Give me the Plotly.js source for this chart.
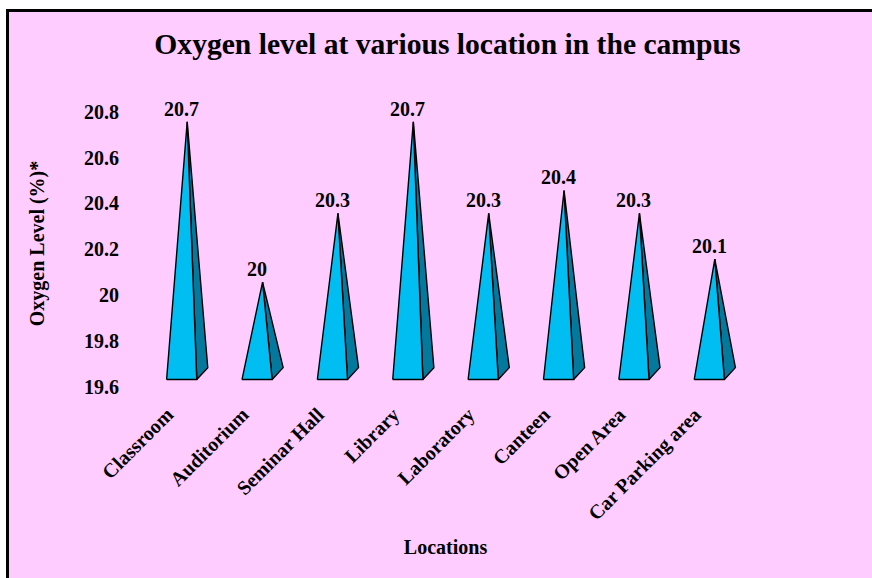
<!DOCTYPE html>
<html>
<head>
<meta charset="utf-8">
<script src="https://cdn.plot.ly/plotly-3.0.1.min.js"></script>
<style>
  html, body { margin: 0; padding: 0; background: #ffffff; width: 872px; height: 578px; overflow: hidden; }
  #chart { position: absolute; left: 6px; top: 9px; width: 863px; height: 566px;
           border-left: 3px solid #000; border-top: 3px solid #000; }
</style>
</head>
<body>
<div id="chart"></div>
<script>
// ---- data ----
const categories = ['Classroom', 'Auditorium', 'Seminar Hall', 'Library', 'Laboratory', 'Canteen', 'Open Area', 'Car Parking area'];
const values = [20.7, 20, 20.3, 20.7, 20.3, 20.4, 20.3, 20.1];
const valueLabels = ['20.7', '20', '20.3', '20.7', '20.3', '20.4', '20.3', '20.1'];
const yTickVals = [19.6, 19.8, 20.0, 20.2, 20.4, 20.6, 20.8];
const yTickText = ['19.6', '19.8', '20', '20.2', '20.4', '20.6', '20.8'];
const baseValue = 19.6;

// ---- style ----
const FONT = '"Liberation Serif", "Times New Roman", Times, serif';
const FRONT = '#00BEF2';
const SIDE = '#03799E';
const halfW = 0.2;     // half width of pyramid front base (category units)
const depthX = 0.146;  // depth offset (category units)
const depthY = 0.052;  // depth offset (value units)
const labelShift = -0.19; // category label offset (category units)

const traces = [];
// anchor trace for the visible value axis
traces.push({ type: 'scatter', mode: 'markers', x: [null], y: [null], xaxis: 'x', yaxis: 'y',
              hoverinfo: 'skip', showlegend: false });
categories.forEach((c, i) => {
  const v = values[i];
  const ax = i + depthX / 2, ay = v + depthY / 2;
  // side face
  traces.push({
    type: 'scatter', mode: 'lines', fill: 'toself', fillcolor: SIDE,
    x: [i + halfW, i + halfW + depthX, ax, i + halfW],
    y: [baseValue, baseValue + depthY, ay, baseValue],
    line: { color: '#000', width: 1.4 }, yaxis: 'y2', hoverinfo: 'skip', showlegend: false
  });
  // front face
  traces.push({
    type: 'scatter', mode: 'lines', fill: 'toself', fillcolor: FRONT,
    x: [i - halfW, i + halfW, ax, i - halfW],
    y: [baseValue, baseValue, ay, baseValue],
    line: { color: '#000', width: 1.4 }, yaxis: 'y2', name: c,
    hovertemplate: c + ': ' + v + '<extra></extra>', showlegend: false
  });
});

const annotations = categories.map((c, i) => ({
  x: i, y: values[i], xref: 'x', yref: 'y2', text: valueLabels[i],
  showarrow: false, yshift: 19, yanchor: 'middle',
  font: { family: FONT, size: 20, weight: 700, color: '#000' }
}));

const layout = {
  width: 863, height: 566,
  margin: { l: 135.3, r: 125.3, t: 77, b: 179.5, pad: 0 },
  paper_bgcolor: '#FFCCFF', plot_bgcolor: 'rgba(0,0,0,0)',
  showlegend: false,
  title: {
    text: 'Oxygen level at various location in the campus',
    x: 0.508, xanchor: 'center', y: 0.9435, yanchor: 'middle', yref: 'container',
    font: { family: FONT, size: 29.6, weight: 700, color: '#000' }
  },
  xaxis: {
    range: [-0.5, 7.5], tickmode: 'array', tickvals: categories.map((c, i) => i + labelShift), ticktext: categories,
    tickangle: -45, showgrid: false, zeroline: false, showline: false,
    ticks: '', ticklen: 0,
    tickfont: { family: FONT, size: 20, weight: 700, color: '#000' },
    title: { text: 'Locations', standoff: 15, font: { family: FONT, size: 20, weight: 700, color: '#000' } },
    fixedrange: true
  },
  yaxis: {
    range: [19.55, 20.9], tickmode: 'array', tickvals: yTickVals, ticktext: yTickText,
    showgrid: false, zeroline: false, showline: false,
    ticks: 'outside', ticklen: 20, tickcolor: 'rgba(0,0,0,0)',
    tickfont: { family: FONT, size: 20, weight: 700, color: '#000' },
    title: { text: 'Oxygen Level (%)*', standoff: 34, font: { family: FONT, size: 20, weight: 700, color: '#000' } },
    fixedrange: true
  },
  yaxis2: {
    overlaying: 'y', range: [19.5193, 20.8696], visible: false, fixedrange: true
  },
  annotations: annotations
};

Plotly.newPlot('chart', traces, layout, { displayModeBar: false, staticPlot: true });
</script>
</body>
</html>
